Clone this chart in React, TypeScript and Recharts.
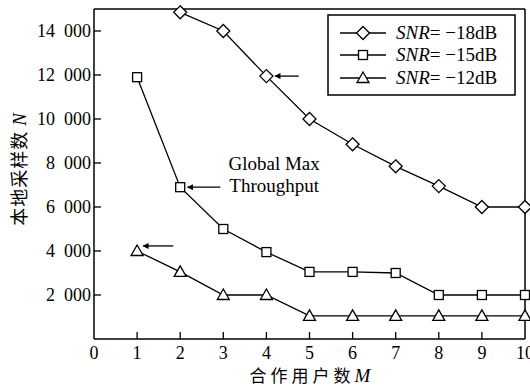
import { LineChart, Line, XAxis, YAxis, ReferenceLine, ReferenceDot } from 'recharts'

const users = [1, 2, 3, 4, 5, 6, 7, 8, 9, 10]
const snr18 = [null, 14850, 14000, 11950, 10000, 8850, 7850, 6950, 6000, 6000]
const snr15 = [11900, 6900, 5000, 3950, 3050, 3050, 3000, 2000, 2000, 2000]
const snr12 = [4000, 3050, 2000, 2000, 1050, 1050, 1050, 1050, 1050, 1050]
const xTicks = [0, 1, 2, 3, 4, 5, 6, 7, 8, 9, 10]
const yTicks = [2000, 4000, 6000, 8000, 10000, 12000, 14000]
const seriesNames = ['-18', '-15', '-12']

const data = users.map((m, i) => ({ m, a: snr18[i], b: snr15[i], c: snr12[i] }))

const FONT = '"Liberation Serif", "Times New Roman", serif'
const CJK = '"Noto Sans CJK SC", sans-serif'

// "14 000" style, with a wide gap like the print
const fmt = (v: number) => String(v).replace(/\B(?=(\d{3})+(?!\d))/g, '\u2002')

function Diamond({ cx, cy }: { cx: number; cy: number }) {
  const r = 6.5
  return <polygon points={`${cx},${cy - r} ${cx + r},${cy} ${cx},${cy + r} ${cx - r},${cy}`} fill="#fff" stroke="#000" strokeWidth={1.3} />
}
function Square({ cx, cy }: { cx: number; cy: number }) {
  const r = 4.5
  return <rect x={cx - r} y={cy - r} width={2 * r} height={2 * r} fill="#fff" stroke="#000" strokeWidth={1.3} />
}
function Triangle({ cx, cy }: { cx: number; cy: number }) {
  const r = 6
  return <polygon points={`${cx},${cy - r} ${cx + r},${cy + r * 0.75} ${cx - r},${cy + r * 0.75}`} fill="#fff" stroke="#000" strokeWidth={1.3} />
}

const shapes = [Diamond, Square, Triangle]

const makeDot = (Shape: typeof Diamond) => (props: any) => {
  if (props.cx == null || props.cy == null || props.value == null) return <g key={props.key ?? props.index} />
  return <Shape key={props.key ?? props.index} cx={props.cx} cy={props.cy} />
}

function XTick(props: any) {
  const { x, y, payload } = props
  return (
    <g>
      {payload.value > 0 && payload.value < 10 && <line x1={x} x2={x} y1={y - 8} y2={y - 15} stroke="#000" strokeWidth={1.3} />}
      <text x={x} y={y + 12} textAnchor="middle" fontFamily={FONT} fontSize={18} fill="#000">{payload.value}</text>
    </g>
  )
}

function YTick(props: any) {
  const { x, y, payload } = props
  return (
    <g>
      <line x1={x + 3} x2={x + 10} y1={y} y2={y} stroke="#000" strokeWidth={1.3} />
      <text x={x} y={y + 6} textAnchor="end" fontFamily={FONT} fontSize={18} fill="#000">{fmt(payload.value)}</text>
    </g>
  )
}

function GlobalLabel(props: any) {
  const { viewBox } = props
  const cx = viewBox.x
  const cy = viewBox.y
  return (
    <text x={cx} y={cy} textAnchor="middle" fontFamily={FONT} fontSize={19} fill="#000">
      <tspan x={cx} dy={0}>Global Max</tspan>
      <tspan x={cx} dy={22}>Throughput</tspan>
    </text>
  )
}

function LegendBox() {
  const left = 328
  const top = 15
  const rows = [33, 55, 78]
  return (
    <g>
      <rect x={left} y={top} width={187} height={80} fill="#fff" stroke="#000" strokeWidth={1.5} />
      {seriesNames.map((n, i) => {
        const S = shapes[i]
        return (
          <g key={n}>
            <line x1={340} x2={386} y1={rows[i]} y2={rows[i]} stroke="#000" strokeWidth={1.3} />
            <S cx={363} cy={rows[i]} />
            <text x={396} y={rows[i] + 6} fontFamily={FONT} fontSize={19} fill="#000">
              <tspan fontStyle="italic">SNR</tspan>
              <tspan>{`= \u2212${n.slice(1)}dB`}</tspan>
            </text>
          </g>
        )
      })}
    </g>
  )
}

export default function App() {
  return (
    <div style={{ position: 'absolute', left: 0, top: 0, width: 530, height: 386, background: '#fff' }}>
      <LineChart width={530} height={386} data={data} margin={{ top: 9, right: 5, left: 0, bottom: 0 }}>
        <defs>
          <marker id="arrowHead" viewBox="0 0 10 10" refX="9" refY="5" markerWidth="9" markerHeight="6" orient="auto" markerUnits="userSpaceOnUse">
            <path d="M0,0 L10,5 L0,10 z" fill="#000" />
          </marker>
        </defs>
        <XAxis
          dataKey="m"
          type="number"
          domain={[0, 10]}
          ticks={xTicks}
          interval={0}
          height={47}
          tickSize={0}
          tickMargin={8}
          tickLine={false}
          tick={<XTick />}
          axisLine={{ stroke: '#000', strokeWidth: 1.5 }}
          label={{ value: '合作用户数 M', content: () => (
            <text x={310} y={382} textAnchor="middle" fontFamily={CJK} fontSize={17} letterSpacing={4} fill="#000">
              合作用户数<tspan fontFamily={FONT} fontStyle="italic" fontSize={19} letterSpacing={0}>M</tspan>
            </text>
          ) }}
        />
        <YAxis
          type="number"
          domain={[0, 15000]}
          ticks={yTicks}
          interval={0}
          width={94}
          tickSize={0}
          tickMargin={3}
          tickLine={false}
          tick={<YTick />}
          axisLine={{ stroke: '#000', strokeWidth: 1.5 }}
          label={{ value: '本地采样数 N', content: () => (
            <text x={0} y={0} transform="translate(26,169) rotate(-90)" textAnchor="middle" fontFamily={CJK} fontSize={18} letterSpacing={1} fill="#000">
              本地采样数 <tspan fontFamily={FONT} fontStyle="italic" fontSize={19}>N</tspan>
            </text>
          ) }}
        />
        <ReferenceLine y={15000} stroke="#000" strokeWidth={1.5} />
        <ReferenceLine x={10} stroke="#000" strokeWidth={1.5} />
        <ReferenceLine segment={[{ x: 4.75, y: 11950 }, { x: 4.2, y: 11950 }]} stroke="#000" strokeWidth={1.3} markerEnd="url(#arrowHead)" />
        <ReferenceLine segment={[{ x: 2.93, y: 6900 }, { x: 2.17, y: 6900 }]} stroke="#000" strokeWidth={1.3} markerEnd="url(#arrowHead)" />
        <ReferenceLine segment={[{ x: 1.84, y: 4230 }, { x: 1.14, y: 4230 }]} stroke="#000" strokeWidth={1.3} markerEnd="url(#arrowHead)" />
        <ReferenceDot x={4.18} y={7680} r={0} fill="none" stroke="none" label={<GlobalLabel />} />
        <Line dataKey="a" stroke="#000" strokeWidth={1.3} dot={makeDot(Diamond)} isAnimationActive={false} connectNulls={false} />
        <Line dataKey="b" stroke="#000" strokeWidth={1.3} dot={makeDot(Square)} isAnimationActive={false} />
        <Line dataKey="c" stroke="#000" strokeWidth={1.3} dot={makeDot(Triangle)} isAnimationActive={false} />
        <LegendBox />
      </LineChart>
    </div>
  )
}
